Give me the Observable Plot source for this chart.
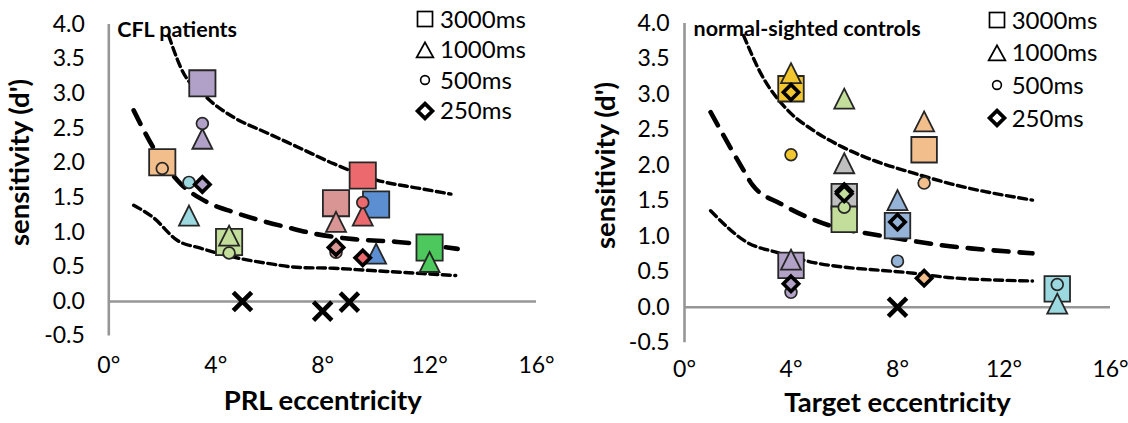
<!DOCTYPE html>
<html><head><meta charset="utf-8">
<script src="https://cdn.jsdelivr.net/npm/d3@7"></script>
<script src="https://cdn.jsdelivr.net/npm/@observablehq/plot@0.6"></script>
<style>
body{margin:0;background:#fff;font-family:Lato,sans-serif;}
#wrap{display:flex;width:1128px;height:423px;overflow:hidden;}
.panel{position:relative;width:564px;height:423px;}
.legend{position:absolute;top:0;font-family:Lato,sans-serif;font-size:24px;color:#000;}
.legend .row{position:absolute;left:0;display:flex;align-items:center;white-space:nowrap;}
.legend svg{display:block;flex:none;}
.legend span{margin-left:3px;line-height:1.2;}
</style></head><body><div id="wrap"></div>
<script>
// ---------- shared axis / legend text ----------
const xTicks = [0, 4, 8, 12, 16];
const yTicks = [-0.5, 0, 0.5, 1, 1.5, 2, 2.5, 3, 3.5, 4];
const durations = ["3000ms", "1000ms", "500ms", "250ms"];
const yLabel = "sensitivity (d')";

// ---------- CFL patients (left) ----------
const cflTitle = "CFL patients";
const cflXLabel = "PRL eccentricity";
const cflSubjects = ["P1", "P2", "P3", "P4", "P5", "P6", "P7", "P8"];
const cflEcc  = [3.5, 2.0, 3.0, 4.5, 8.5, 9.5, 10.0, 12.0];
const cfl3000 = [3.15, 2.01, null, 0.86, 1.42, 1.82, 1.40, 0.78];
const cfl1000 = [2.35, null, 1.24, 0.95, 1.15, 1.24, 0.69, 0.57];
const cfl500  = [2.57, 1.92, 1.72, 0.70, 0.71, 1.43, null, null];
const cfl250  = [1.69, null, null, null, 0.78, 0.63, null, null];
const cflZeroEcc = [5, 8, 9];
const cflZeroD   = [0, -0.14, -0.01];
const cflUpperX = [2.24, 2.69, 3.70, 4.67, 5.94, 7.18, 8.41, 10.05, 11.67, 12.8];
const cflUpperY = [3.84, 3.38, 2.93, 2.66, 2.43, 2.21, 1.99, 1.75, 1.63, 1.55];
const cflMidX = [0.93, 1.67, 2.69, 3.70, 4.67, 5.68, 6.69, 7.67, 9.16, 10.8, 13.05];
const cflMidY = [2.76, 2.22, 1.70, 1.43, 1.29, 1.17, 1.07, 0.98, 0.90, 0.86, 0.76];
const cflLowX = [0.93, 1.67, 2.57, 3.43, 4.67, 5.94, 7.18, 8.41, 9.69, 12.98];
const cflLowY = [1.39, 1.21, 0.88, 0.77, 0.64, 0.55, 0.49, 0.48, 0.45, 0.375];

// ---------- normal-sighted controls (right) ----------
const ctlTitle = "normal-sighted controls";
const ctlXLabel = "Target eccentricity";
const ctlSubjects = ["C1", "C2", "C3", "C4", "C5", "C6", "C7"];
const ctlEcc  = [4, 6, 6, 9, 8, 4, 14];
const ctl3000 = [3.08, 1.56, 1.24, 2.22, 1.15, 0.59, 0.26];
const ctl1000 = [3.30, 2.03, 2.94, 2.62, 1.51, 0.67, 0.05];
const ctl500  = [2.15, null, 1.41, 1.75, 0.65, 0.21, 0.32];
const ctl250  = [3.03, 1.63, 1.60, 0.41, 1.20, 0.33, null];
const ctlZeroEcc = [8];
const ctlZeroD   = [0];
const ctlUpperX = [2.22, 2.86, 3.87, 4.85, 5.98, 7.1, 8.61, 10.0, 13.07];
const ctlUpperY = [3.83, 3.30, 2.78, 2.49, 2.25, 2.07, 1.89, 1.74, 1.51];
const ctlMidX = [0.98, 2.22, 2.56, 3.61, 4.62, 5.75, 6.73, 8.01, 9.74, 10.75, 13.07];
const ctlMidY = [2.75, 1.93, 1.72, 1.46, 1.27, 1.12, 1.05, 0.97, 0.87, 0.83, 0.76];
const ctlLowX = [0.98, 2.37, 3.5, 4.85, 6.13, 7.37, 8.61, 9.89, 13.07];
const ctlLowY = [1.36, 0.91, 0.77, 0.63, 0.56, 0.52, 0.48, 0.42, 0.37];

// ---------- styles ----------
const cflPalette = ["#B1A0C7", "#F2BE8C", "#9CD8DF", "#C3DE9B", "#D99594", "#EC6A6E", "#5B8FD2", "#4CC85C"];
const ctlPalette = ["#F2C62F", "#BFBFBF", "#C3DE9B", "#F2BE8C", "#95B3D7", "#B3A2C7", "#9CD8DF"];

// Excel-like triangle: bounding box centred on the point
const triSym = {draw(ctx, size) { const r = Math.sqrt(size / Math.PI); ctx.moveTo(0, -r); ctx.lineTo(r, r); ctx.lineTo(-r, r); ctx.closePath(); }};

function buildRows(subjects, ecc, series) {
  const rows = [];
  series.forEach((vals, k) => vals.forEach((v, i) => {
    if (v != null) rows.push({subject: subjects[i], ecc: ecc[i], d: v, dur: durations[k]});
  }));
  return rows;
}
const zip = (xs, ys) => xs.map((x, i) => ({x, y: ys[i]}));

function makePanel(cfg) {
  const rows = buildRows(cfg.subjects, cfg.ecc, cfg.series);
  const byDur = dur => rows.filter(r => r.dur === dur);
  const plot = Plot.plot({
    width: 564, height: 423,
    marginLeft: cfg.ml, marginRight: cfg.mr, marginTop: cfg.mt, marginBottom: cfg.mb,
    x: {domain: [0, 16]},
    y: {domain: [-0.5, 4]},
    color: {domain: cfg.subjects, range: cfg.palette},
    style: {background: "white", fontFamily: "Lato, sans-serif", fontSize: "23px", color: "#000", overflow: "visible"},
    marks: [
      Plot.axisX(xTicks, {tickSize: 0, tickPadding: cfg.xPad, tickFormat: d => d + "°", label: null, fontSize: 23}),
      Plot.axisY(yTicks, {tickSize: 0, tickPadding: cfg.yPad, tickFormat: d => d.toFixed(1), label: null, fontSize: 23}),
      Plot.ruleY([0], {stroke: "#969696", strokeWidth: 2.6}),
      Plot.ruleX([0], {stroke: "#969696", strokeWidth: 2.6}),
      Plot.line(zip(cfg.upX, cfg.upY), {x: "x", y: "y", curve: "monotone-x", stroke: "#000", strokeWidth: 3.4, strokeDasharray: "8,4.5"}),
      Plot.line(zip(cfg.midX, cfg.midY), {x: "x", y: "y", curve: "monotone-x", stroke: "#000", strokeWidth: 4.6, strokeDasharray: "15,11"}),
      Plot.line(zip(cfg.lowX, cfg.lowY), {x: "x", y: "y", curve: "monotone-x", stroke: "#000", strokeWidth: 3.4, strokeDasharray: "8,4.5"}),
      Plot.dot(byDur("3000ms"), {x: "ecc", y: "d", fill: "subject", symbol: "square", r: cfg.sqR, stroke: "#262626", strokeWidth: 1.8}),
      Plot.dot(byDur("1000ms"), {x: "ecc", y: "d", fill: "subject", symbol: triSym, r: 10, stroke: "#262626", strokeWidth: 1.8}),
      Plot.dot(byDur("500ms"), {x: "ecc", y: "d", fill: "subject", symbol: "circle", r: 5.9, stroke: "#262626", strokeWidth: 1.7}),
      Plot.dot(byDur("250ms"), {x: "ecc", y: "d", fill: "subject", symbol: "diamond2", r: 6.9, stroke: "#000", strokeWidth: 3.6}),
      Plot.dot(zip(cfg.zeroX, cfg.zeroY), {x: "x", y: "y", symbol: "times", r: 8.4, stroke: "#000", strokeWidth: 4.6}),
      Plot.text([cfg.title], {text: d => d, frameAnchor: "top-left", textAnchor: "start", dx: cfg.titleDx, dy: cfg.titleDy, fontSize: 21.5, fontWeight: "bold"}),
      Plot.text([cfg.xLabel], {text: d => d, frameAnchor: "bottom", textAnchor: "middle", dy: cfg.xLabDy, fontSize: 27.5, fontWeight: "bold"}),
      Plot.text([yLabel], {text: d => d, frameAnchor: "left", textAnchor: "middle", rotate: -90, dx: cfg.yLabDx, dy: cfg.yLabDy, fontSize: 27.5, fontWeight: "bold"})
    ]
  });
  const div = document.createElement("div");
  div.className = "panel";
  div.appendChild(plot);
  // legend overlay
  const leg = document.createElement("div");
  leg.className = "legend";
  leg.style.left = cfg.legLeft + "px";
  const shapes = [
    '<rect x="4.5" y="4.5" width="15" height="15" fill="none" stroke="#000" stroke-width="1.7"/>',
    '<path d="M12,4.4L20.3,19.4L3.7,19.4Z" fill="none" stroke="#000" stroke-width="1.8"/>',
    '<circle cx="12" cy="12" r="4.4" fill="none" stroke="#000" stroke-width="1.6"/>',
    '<path d="M12,4.6L19.4,12L12,19.4L4.6,12Z" fill="none" stroke="#000" stroke-width="3.8"/>'
  ];
  durations.forEach((dur, i) => {
    const row = document.createElement("div");
    row.className = "row";
    row.style.top = (cfg.legTop + i * cfg.legStep) + "px";
    row.style.height = cfg.legStep + "px";
    row.innerHTML = '<svg width="24" height="24" viewBox="0 0 24 24">' + shapes[i] + '</svg><span>' + dur + '</span>';
    leg.appendChild(row);
  });
  div.appendChild(leg);
  return div;
}

const wrap = document.getElementById("wrap");
wrap.appendChild(makePanel({
  subjects: cflSubjects, ecc: cflEcc, series: [cfl3000, cfl1000, cfl500, cfl250],
  zeroX: cflZeroEcc, zeroY: cflZeroD, palette: cflPalette,
  upX: cflUpperX, upY: cflUpperY, midX: cflMidX, midY: cflMidY, lowX: cflLowX, lowY: cflLowY,
  title: cflTitle, xLabel: cflXLabel,
  ml: 108.3, mr: 28, mt: 24, mb: 87.4, xPad: 21, yPad: 24, sqR: 14.8,
  titleDx: 8.4, titleDy: -2.6, xLabDy: 73.5, yLabDx: -88.5, yLabDy: -17.8,
  legLeft: 413, legTop: 3.75, legStep: 30.5
}));
wrap.appendChild(makePanel({
  subjects: ctlSubjects, ecc: ctlEcc, series: [ctl3000, ctl1000, ctl500, ctl250],
  zeroX: ctlZeroEcc, zeroY: ctlZeroD, palette: ctlPalette,
  upX: ctlUpperX, upY: ctlUpperY, midX: ctlMidX, midY: ctlMidY, lowX: ctlLowX, lowY: ctlLowY,
  title: ctlTitle, xLabel: ctlXLabel,
  ml: 120, mr: 18, mt: 23, mb: 80.8, xPad: 18, yPad: 15, sqR: 14.4,
  titleDx: 9, titleDy: -2.4, xLabDy: 69.5, yLabDx: -78, yLabDy: -17.6,
  legLeft: 420.7, legTop: 3.65, legStep: 32.7
}));
</script></body></html>
